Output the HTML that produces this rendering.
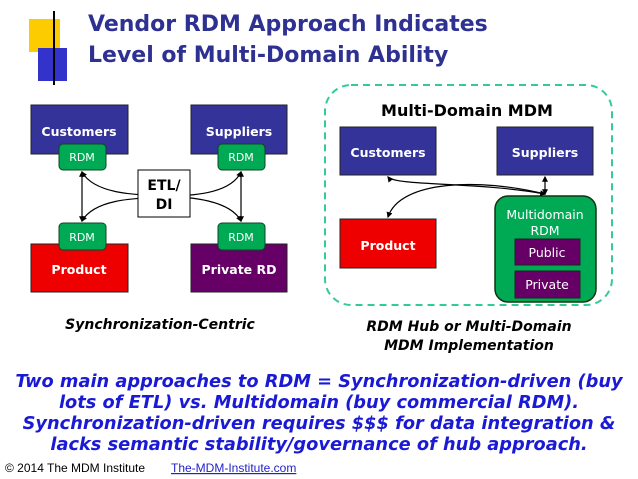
<!DOCTYPE html>
<html><head><style>
body{margin:0;background:#fff;}
svg{display:block}
</style></head><body>
<svg width="638" height="479" viewBox="0 0 638 479" xmlns="http://www.w3.org/2000/svg" font-family="'DejaVu Sans','Liberation Sans',sans-serif">
<defs>
<marker id="a" viewBox="0 0 10 10" refX="8" refY="5" markerWidth="5" markerHeight="5" orient="auto-start-reverse"><path d="M0,0 L10,5 L0,10 z" fill="#000"/></marker>
</defs>
<rect x="29" y="19" width="31" height="33" fill="#fdcc00"/>
<rect x="38" y="48" width="29" height="33" fill="#3333cc"/>
<line x1="54" y1="11" x2="54" y2="85" stroke="#000" stroke-width="2"/>
<text x="88" y="31" font-size="22" font-weight="bold" fill="#2e3192">Vendor RDM Approach Indicates</text>
<text x="88" y="62" font-size="22" font-weight="bold" fill="#2e3192">Level of Multi-Domain Ability</text>

<g font-weight="bold" fill="#fff" text-anchor="middle">
<rect x="31" y="105" width="97" height="49" fill="#333399" stroke="#222" />
<text x="79" y="136" font-size="12.5">Customers</text>
<rect x="191" y="105" width="96" height="49" fill="#333399" stroke="#222"/>
<text x="239" y="136" font-size="12.5">Suppliers</text>
<rect x="31" y="244" width="97" height="48" fill="#ee0000" stroke="#222"/>
<text x="79" y="274" font-size="12.5">Product</text>
<rect x="191" y="244" width="96" height="48" fill="#660066" stroke="#222"/>
<text x="239" y="274" font-size="12.5">Private RD</text>
</g>
<g fill="#00aa55" stroke="#114422">
<rect x="59" y="144" width="47" height="26" rx="4"/>
<rect x="218" y="144" width="47" height="26" rx="4"/>
<rect x="59" y="223" width="47" height="27" rx="4"/>
<rect x="218" y="223" width="47" height="27" rx="4"/>
</g>
<g fill="#fff" font-size="11" text-anchor="middle">
<text x="82" y="161">RDM</text><text x="241" y="161">RDM</text>
<text x="82" y="241">RDM</text><text x="241" y="241">RDM</text>
</g>
<g stroke="#000" fill="none" stroke-width="1.2">
<line x1="82" y1="172" x2="82" y2="221" marker-start="url(#a)" marker-end="url(#a)"/>
<line x1="241" y1="172" x2="241" y2="221" marker-start="url(#a)" marker-end="url(#a)"/>
<path d="M82,172 C95,195 140,195 165,196 C190,197 230,200 241,221" marker-start="url(#a)" marker-end="url(#a)"/>
<path d="M82,221 C95,198 140,198 165,197 C190,195 230,195 241,172" marker-start="url(#a)" marker-end="url(#a)"/>
</g>
<rect x="138" y="170" width="52" height="47" fill="#fff" stroke="#000"/>
<text x="164" y="190" font-size="14" font-weight="bold" text-anchor="middle">ETL/</text>
<text x="164" y="209" font-size="14" font-weight="bold" text-anchor="middle">DI</text>
<text x="160" y="329" font-size="14" font-weight="bold" font-style="italic" text-anchor="middle">Synchronization-Centric</text>

<rect x="325" y="85" width="287" height="220" rx="26" fill="none" stroke="#33cc99" stroke-width="2" stroke-dasharray="7,5"/>
<text x="467" y="116" font-size="16" font-weight="bold" text-anchor="middle">Multi-Domain MDM</text>
<g font-weight="bold" fill="#fff" text-anchor="middle">
<rect x="340" y="127" width="96" height="48" fill="#333399" stroke="#222"/>
<text x="388" y="157" font-size="12.5">Customers</text>
<rect x="497" y="127" width="96" height="48" fill="#333399" stroke="#222"/>
<text x="545" y="157" font-size="12.5">Suppliers</text>
<rect x="340" y="219" width="96" height="49" fill="#ee0000" stroke="#222"/>
<text x="388" y="250" font-size="12.5">Product</text>
</g>
<rect x="495" y="196" width="101" height="106" rx="13" fill="#00aa55" stroke="#113311" stroke-width="1.5"/>
<text x="545" y="219" font-size="12.5" fill="#fff" text-anchor="middle">Multidomain</text>
<text x="545" y="235" font-size="12.5" fill="#fff" text-anchor="middle">RDM</text>
<rect x="515" y="239" width="65" height="26" fill="#660066" stroke="#222"/>
<rect x="515" y="271" width="65" height="27" fill="#660066" stroke="#222"/>
<text x="547" y="257" font-size="12.5" fill="#fff" text-anchor="middle">Public</text>
<text x="547" y="289" font-size="12.5" fill="#fff" text-anchor="middle">Private</text>
<g stroke="#000" fill="none" stroke-width="1.2">
<line x1="545" y1="177" x2="545" y2="194" marker-start="url(#a)" marker-end="url(#a)"/>
<path d="M388,177 C395,186 480,182 545,194" marker-start="url(#a)" marker-end="url(#a)"/>
<path d="M545,194 C480,178 400,180 388,217" marker-end="url(#a)"/>
</g>
<text x="469" y="331" font-size="14" font-weight="bold" font-style="italic" text-anchor="middle">RDM Hub or Multi-Domain</text>
<text x="469" y="350" font-size="14" font-weight="bold" font-style="italic" text-anchor="middle">MDM Implementation</text>

<g font-size="17.8" font-weight="bold" font-style="italic" fill="#1a1ad6" text-anchor="middle">
<text x="319" y="387">Two main approaches to RDM = Synchronization-driven (buy</text>
<text x="319" y="408">lots of ETL) vs. Multidomain (buy commercial RDM).</text>
<text x="319" y="429">Synchronization-driven requires $$$ for data integration &amp;</text>
<text x="319" y="450">lacks semantic stability/governance of hub approach.</text>
</g>
<text x="5" y="472" font-size="12" fill="#000" font-family="'Liberation Sans',sans-serif">© 2014 The MDM Institute</text>
<text x="171" y="472" font-size="12" fill="#2222cc" text-decoration="underline" font-family="'Liberation Sans',sans-serif">The-MDM-Institute.com</text>
</svg>
</body></html>
